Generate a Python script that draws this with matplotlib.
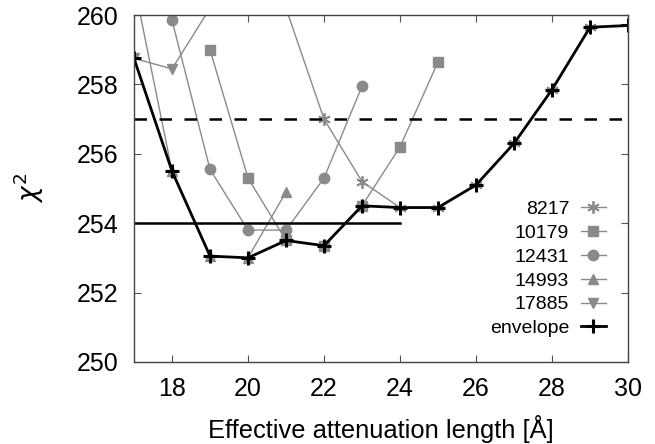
import numpy as np
import matplotlib
matplotlib.use("Agg")
import matplotlib.pyplot as plt

plt.rcParams['font.family'] = ['Liberation Sans', 'DejaVu Sans']

# chi^2 vs effective attenuation length, per run + envelope
x_8217 = [21, 22, 23, 24, 25, 26, 27, 28, 29]
y_8217 = [260.2, 257.0, 255.2, 254.45, 254.45, 255.1, 256.3, 257.85, 259.65]

x_10179 = [19, 20, 21, 22, 23, 24, 25]
y_10179 = [259.0, 255.3, 253.5, 253.35, 254.5, 256.2, 258.65]

x_12431 = [18, 19, 20, 21, 22, 23]
y_12431 = [259.85, 255.55, 253.8, 253.8, 255.3, 257.95]

x_14993 = [17, 18, 19, 20, 21]
y_14993 = [260.9, 255.5, 253.05, 253.0, 254.9]

x_17885 = [17, 18, 19]
y_17885 = [258.75, 258.45, 260.2]

x_env = [17, 18, 19, 20, 21, 22, 23, 24, 25, 26, 27, 28, 29, 30]
y_env = [258.75, 255.5, 253.05, 253.0, 253.5, 253.35, 254.5, 254.45, 254.45,
         255.1, 256.3, 257.85, 259.65, 259.7]

level_solid = 254.0
level_dashed = 257.0

gray = '#8a8a8a'

fig = plt.figure(figsize=(6.55, 4.44), dpi=100)
ax = fig.add_axes([0.2046, 0.185, 0.7542, 0.781])

ax.plot(x_8217, y_8217, color=gray, lw=1.0, marker=(6, 2, 0), ms=9, mew=1.3, label='8217')
ax.plot(x_10179, y_10179, color=gray, lw=1.0, marker='s', ms=7.5, label='10179')
ax.plot(x_12431, y_12431, color=gray, lw=1.0, marker='o', ms=7.5, label='12431')
ax.plot(x_14993, y_14993, color=gray, lw=1.0, marker='^', ms=7.5, label='14993')
ax.plot(x_17885, y_17885, color=gray, lw=1.0, marker='v', ms=7.5, label='17885')
ax.plot([17, 24], [level_solid, level_solid], color='black', lw=1.8)
ax.plot([17, 30], [level_dashed, level_dashed], color='black', lw=1.8, ls=(0, (5, 5)))
ax.plot(x_env, y_env, color='black', lw=2.0, marker='+', ms=10, mew=2.2, label='envelope')

ax.set_xlim(17, 30)
ax.set_ylim(250, 260)
ax.set_xticks([18, 20, 22, 24, 26, 28, 30])
ax.set_yticks([250, 252, 254, 256, 258, 260])
ax.tick_params(direction='in', length=5, width=0.8, color='#555555',
               top=True, right=True, labelsize=18, pad=11)
for s in ax.spines.values():
    s.set_color('#444444')
    s.set_linewidth(1.0)

ax.set_xlabel('Effective attenuation length [Å]', fontsize=18.4, labelpad=10)
ax.set_ylabel(r'$\chi^2$', fontsize=19, labelpad=22)

leg = ax.legend(loc='lower right', bbox_to_anchor=(0.995, 0.015), markerfirst=False,
                frameon=False, fontsize=14, handlelength=1.3, handletextpad=0.6,
                labelspacing=0.32, borderaxespad=0.6)

fig.savefig('out.png', dpi=100)
